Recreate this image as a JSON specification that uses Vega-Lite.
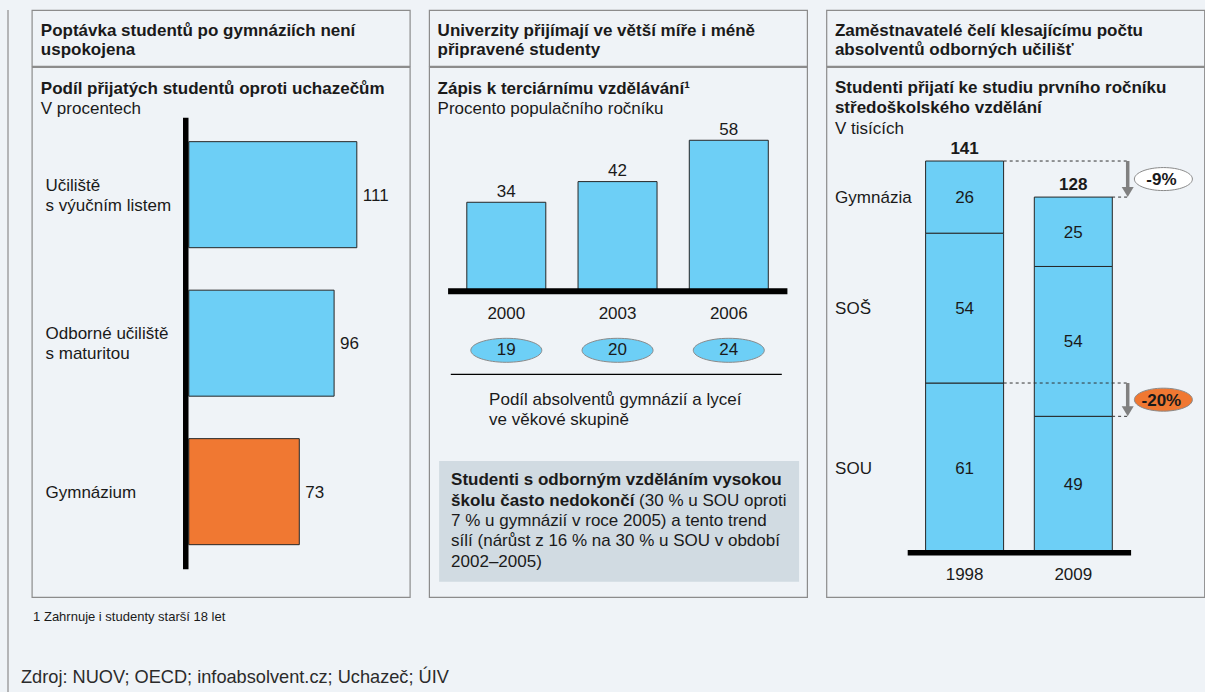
{
  "$schema": "https://vega.github.io/schema/vega-lite/v6.json",
  "background": "#eff3f7",
  "padding": {"left": 7, "top": 9, "right": 0, "bottom": 0},
  "config": {
    "font": "Liberation Sans",
    "view": {"stroke": "#8c8c8c", "strokeWidth": 1.2},
    "axis": {"disable": true},
    "text": {"fontSize": 17, "color": "#1a1a1a", "font": "Liberation Sans"},
    "title": {"font": "Liberation Sans", "fontSize": 17, "fontWeight": "bold", "color": "#1a1a1a", "subtitleFont": "Liberation Sans", "subtitleFontSize": 17, "subtitleFontWeight": "normal", "subtitleColor": "#1a1a1a", "anchor": "start", "frame": "group", "orient": "bottom", "lineHeight": 19, "subtitleLineHeight": 20}
  },
  "title": {"text": "Zdroj: NUOV; OECD; infoabsolvent.cz; Uchazeč; ÚIV", "fontSize": 18.2, "fontWeight": "normal", "color": "#2b2b2b", "dx": 13, "offset": -24.6},
  "spacing": 17.8,
  "resolve": {"scale": {"fill": "independent"}},
  "hconcat": [
    {"width": 5, "height": 683, "view": {"stroke": null}, "data": {"values": [{}]},
     "mark": {"type": "rule", "color": "#8c8c8c", "strokeWidth": 1.2},
     "encoding": {"x": {"datum": 0, "type": "quantitative", "axis": null, "scale": {"domain": [0, 5], "nice": false, "zero": false}}}},
    {
      "spacing": 17.3,
      "resolve": {"scale": {"fill": "independent"}},
      "hconcat": [
        {
          "spacing": -1.2,
          "title": {"text": "1 Zahrnuje i studenty starší 18 let", "fontSize": 13, "fontWeight": "normal", "offset": 13, "dx": 1.3},
          "vconcat": [
            {"width": 378, "height": 56, "view": {"stroke": "#8c8c8c", "strokeWidth": 1.2}, "data": {"values": [{}]}, "mark": {"type": "text", "text": ""},
             "title": {"text": ["Poptávka studentů po gymnáziích není", "uspokojena"], "offset": -42.7, "dx": 9}},
            {"width": 378, "height": 530,
             "title": {"text": "Podíl přijatých studentů oproti uchazečům", "subtitle": "V procentech", "offset": -515.7, "dx": 9, "subtitlePadding": 3},
             "data": {"values": [
               {"typ": "Učiliště s výučním listem", "popisek": "Učiliště|s výučním listem", "podil": 111, "skupina": "Odborné školy"},
               {"typ": "Odborné učiliště s maturitou", "popisek": "Odborné učiliště|s maturitou", "podil": 96, "skupina": "Odborné školy"},
               {"typ": "Gymnázium", "popisek": "Gymnázium", "podil": 73, "skupina": "Gymnázia"}
             ]},
             "encoding": {"y": {"field": "typ", "type": "nominal", "axis": null, "scale": {"domain": ["Učiliště s výučním listem", "Odborné učiliště s maturitou", "Gymnázium"], "paddingInner": 0.286, "paddingOuter": 0.4276, "align": 0.588}}},
             "layer": [
               {"mark": {"type": "bar", "stroke": "#262626", "strokeWidth": 1},
                "encoding": {"x": {"field": "podil", "type": "quantitative", "axis": null, "scale": {"domain": [-103.7, 146.0], "nice": false}},
                             "fill": {"field": "skupina", "type": "nominal", "legend": null, "scale": {"domain": ["Odborné školy", "Gymnázia"], "range": ["#6dcff6", "#f07832"]}}}},
               {"mark": {"type": "text", "align": "left", "baseline": "middle", "dx": 6, "dy": 1},
                "encoding": {"x": {"field": "podil", "type": "quantitative", "axis": null, "scale": {"domain": [-103.7, 146.0], "nice": false}}, "text": {"field": "podil", "type": "quantitative"}}},
               {"transform": [{"filter": "indexof(datum.popisek, '|') >= 0"}],
                "mark": {"type": "text", "align": "left", "baseline": "middle", "dy": -9, "lineBreak": "|", "lineHeight": 20},
                "encoding": {"x": {"datum": -94.65, "type": "quantitative", "axis": null, "scale": {"domain": [-103.7, 146.0], "nice": false}}, "text": {"field": "popisek", "type": "nominal"}}},
               {"transform": [{"filter": "indexof(datum.popisek, '|') < 0"}],
                "mark": {"type": "text", "align": "left", "baseline": "middle", "dy": 1},
                "encoding": {"x": {"datum": -94.65, "type": "quantitative", "axis": null, "scale": {"domain": [-103.7, 146.0], "nice": false}}, "text": {"field": "popisek", "type": "nominal"}}},
               {"data": {"values": [{}]}, "mark": {"type": "rule", "strokeWidth": 5.5, "color": "#000000"},
                "encoding": {"x": {"datum": -2, "type": "quantitative", "axis": null, "scale": {"domain": [-103.7, 146.0], "nice": false}},
                             "y": {"datum": "Učiliště s výučním listem", "type": "nominal", "bandPosition": -0.226},
                             "y2": {"datum": "Gymnázium", "bandPosition": 1.232}}}
             ]}
          ]
        },
        {
          "spacing": -1.2,
          "vconcat": [
            {"width": 378, "height": 56, "view": {"stroke": "#8c8c8c", "strokeWidth": 1.2}, "data": {"values": [{}]}, "mark": {"type": "text", "text": ""},
             "title": {"text": ["Univerzity přijímají ve větší míře i méně", "připravené studenty"], "offset": -42.7, "dx": 8.5}},
            {"width": 378, "height": 530,
             "title": {"text": "Zápis k terciárnímu vzdělávání¹", "subtitle": "Procento populačního ročníku", "offset": -515.7, "dx": 8.5, "subtitlePadding": 3},
             "data": {"values": [
               {"rok": 2000, "zapis": 34, "absolventi": 19},
               {"rok": 2003, "zapis": 42, "absolventi": 20},
               {"rok": 2006, "zapis": 58, "absolventi": 24}
             ]},
             "layer": [
               {"data": {"values": [{}]}, "mark": {"type": "rect", "fill": "#d1dbe2"},
                "encoding": {"x": {"datum": 1998.188, "type": "quantitative", "axis": null, "scale": {"domain": [1997.918, 2008.112], "nice": false, "zero": false, "padding": 0}},
                             "x2": {"datum": 2007.896},
                             "y": {"datum": -66.16, "type": "quantitative", "axis": null, "scale": {"domain": [-118.82, 86.37], "nice": false}},
                             "y2": {"datum": -112.89}}},
               {"mark": {"type": "bar", "orient": "vertical", "width": 79, "fill": "#6dcff6", "stroke": "#262626", "strokeWidth": 1},
                "encoding": {"x": {"field": "rok", "type": "quantitative", "axis": null, "scale": {"domain": [1997.918, 2008.112], "nice": false, "zero": false, "padding": 0}},
                             "y": {"field": "zapis", "type": "quantitative", "axis": null, "scale": {"domain": [-118.82, 86.37], "nice": false}}}},
               {"mark": {"type": "text", "baseline": "middle", "dy": -10.3},
                "encoding": {"x": {"field": "rok", "type": "quantitative", "axis": null, "scale": {"domain": [1997.918, 2008.112], "nice": false, "zero": false, "padding": 0}},
                             "y": {"field": "zapis", "type": "quantitative", "axis": null, "scale": {"domain": [-118.82, 86.37], "nice": false}},
                             "text": {"field": "zapis", "type": "quantitative"}}},
               {"data": {"values": [{}]}, "mark": {"type": "rule", "strokeWidth": 6, "color": "#000000"},
                "encoding": {"x": {"datum": 1998.430, "type": "quantitative", "axis": null, "scale": {"domain": [1997.918, 2008.112], "nice": false, "zero": false, "padding": 0}},
                             "x2": {"datum": 2007.581},
                             "y": {"datum": -0.46, "type": "quantitative", "axis": null, "scale": {"domain": [-118.82, 86.37], "nice": false}}}},
               {"mark": {"type": "text", "baseline": "middle"},
                "encoding": {"x": {"field": "rok", "type": "quantitative", "axis": null, "scale": {"domain": [1997.918, 2008.112], "nice": false, "zero": false, "padding": 0}},
                             "y": {"datum": -9.14, "type": "quantitative", "axis": null, "scale": {"domain": [-118.82, 86.37], "nice": false}},
                             "text": {"field": "rok", "type": "ordinal"}}},
               {"mark": {"type": "point", "shape": "M-1,0C-1,-0.1867,-0.5523,-0.338,0,-0.338C0.5523,-0.338,1,-0.1867,1,0C1,0.1867,0.5523,0.338,0,0.338C-0.5523,0.338,-1,0.1867,-1,0Z", "size": 5041, "filled": true, "fill": "#6dcff6", "stroke": "#8a8a8a", "strokeWidth": 1, "opacity": 1},
                "encoding": {"x": {"field": "rok", "type": "quantitative", "axis": null, "scale": {"domain": [1997.918, 2008.112], "nice": false, "zero": false, "padding": 0}},
                             "y": {"datum": -23.31, "type": "quantitative", "axis": null, "scale": {"domain": [-118.82, 86.37], "nice": false}}}},
               {"mark": {"type": "text", "baseline": "middle"},
                "encoding": {"x": {"field": "rok", "type": "quantitative", "axis": null, "scale": {"domain": [1997.918, 2008.112], "nice": false, "zero": false, "padding": 0}},
                             "y": {"datum": -23.31, "type": "quantitative", "axis": null, "scale": {"domain": [-118.82, 86.37], "nice": false}},
                             "text": {"field": "absolventi", "type": "quantitative"}}},
               {"data": {"values": [{}]}, "mark": {"type": "rule", "strokeWidth": 1.3, "color": "#000000"},
                "encoding": {"x": {"datum": 1998.503, "type": "quantitative", "axis": null, "scale": {"domain": [1997.918, 2008.112], "nice": false, "zero": false, "padding": 0}},
                             "x2": {"datum": 2007.430},
                             "y": {"datum": -32.60, "type": "quantitative", "axis": null, "scale": {"domain": [-118.82, 86.37], "nice": false}}}},
               {"data": {"values": [{"popis": "Podíl absolventů gymnázií a lyceí|ve věkové skupině"}]},
                "mark": {"type": "text", "align": "left", "baseline": "middle", "lineBreak": "|", "lineHeight": 20.6},
                "encoding": {"x": {"datum": 1999.536, "type": "quantitative", "axis": null, "scale": {"domain": [1997.918, 2008.112], "nice": false, "zero": false, "padding": 0}},
                             "y": {"datum": -42.43, "type": "quantitative", "axis": null, "scale": {"domain": [-118.82, 86.37], "nice": false}},
                             "text": {"field": "popis"}}},
               {"data": {"values": [{"popis": "Studenti s odborným vzděláním vysokou|školu často nedokončí"}]},
                "mark": {"type": "text", "align": "left", "baseline": "middle", "fontWeight": "bold", "lineBreak": "|", "lineHeight": 20.4},
                "encoding": {"x": {"datum": 1998.511, "type": "quantitative", "axis": null, "scale": {"domain": [1997.918, 2008.112], "nice": false, "zero": false, "padding": 0}},
                             "y": {"datum": -73.64, "type": "quantitative", "axis": null, "scale": {"domain": [-118.82, 86.37], "nice": false}},
                             "text": {"field": "popis"}}},
               {"data": {"values": [{"popis": "(30 % u SOU oproti"}]},
                "mark": {"type": "text", "align": "left", "baseline": "middle"},
                "encoding": {"x": {"datum": 2003.581, "type": "quantitative", "axis": null, "scale": {"domain": [1997.918, 2008.112], "nice": false, "zero": false, "padding": 0}},
                             "y": {"datum": -81.53, "type": "quantitative", "axis": null, "scale": {"domain": [-118.82, 86.37], "nice": false}},
                             "text": {"field": "popis"}}},
               {"data": {"values": [{"popis": "7 % u gymnázií v roce 2005) a tento trend|sílí (nárůst z 16 % na 30 % u SOU v období|2002–2005)"}]},
                "mark": {"type": "text", "align": "left", "baseline": "middle", "lineBreak": "|", "lineHeight": 20.4},
                "encoding": {"x": {"datum": 1998.511, "type": "quantitative", "axis": null, "scale": {"domain": [1997.918, 2008.112], "nice": false, "zero": false, "padding": 0}},
                             "y": {"datum": -89.43, "type": "quantitative", "axis": null, "scale": {"domain": [-118.82, 86.37], "nice": false}},
                             "text": {"field": "popis"}}}
             ]}
          ]
        },
        {
          "spacing": -1.2,
          "vconcat": [
            {"width": 378, "height": 56, "view": {"stroke": "#8c8c8c", "strokeWidth": 1.2}, "data": {"values": [{}]}, "mark": {"type": "text", "text": ""},
             "title": {"text": ["Zaměstnavatelé čelí klesajícímu počtu", "absolventů odborných učilišť"], "offset": -42.7, "dx": 8.5}},
            {"width": 378, "height": 530,
             "title": {"text": ["Studenti přijatí ke studiu prvního ročníku", "středoškolského vzdělání"], "subtitle": "V tisících", "offset": -517.3, "dx": 8.5, "subtitlePadding": 4, "lineHeight": 20},
             "data": {"values": [
               {"rok": 1998, "typ": "SOU", "pocet": 61, "poradi": 1},
               {"rok": 1998, "typ": "SOŠ", "pocet": 54, "poradi": 2},
               {"rok": 1998, "typ": "Gymnázia", "pocet": 26, "poradi": 3},
               {"rok": 2009, "typ": "SOU", "pocet": 49, "poradi": 1},
               {"rok": 2009, "typ": "SOŠ", "pocet": 54, "poradi": 2},
               {"rok": 2009, "typ": "Gymnázia", "pocet": 25, "poradi": 3}
             ]},
             "layer": [
               {"mark": {"type": "bar", "orient": "vertical", "width": 78, "fill": "#6dcff6", "stroke": "#262626", "strokeWidth": 1},
                "encoding": {"x": {"field": "rok", "type": "quantitative", "axis": null, "scale": {"domain": [1984.015, 2022.267], "nice": false, "zero": false, "padding": 0}},
                             "y": {"field": "pocet", "type": "quantitative", "stack": "zero", "axis": null, "scale": {"domain": [-16.11, 174.88], "nice": false, "zero": false}},
                             "detail": {"field": "typ", "type": "nominal"},
                             "order": {"field": "poradi", "type": "quantitative"}}},
               {"mark": {"type": "text", "baseline": "middle", "dy": 1},
                "encoding": {"x": {"field": "rok", "type": "quantitative", "axis": null, "scale": {"domain": [1984.015, 2022.267], "nice": false, "zero": false, "padding": 0}},
                             "y": {"field": "pocet", "type": "quantitative", "stack": "zero", "bandPosition": 0.5, "axis": null, "scale": {"domain": [-16.11, 174.88], "nice": false, "zero": false}},
                             "detail": {"field": "typ", "type": "nominal"},
                             "order": {"field": "poradi", "type": "quantitative"},
                             "text": {"field": "pocet", "type": "quantitative"}}},
               {"transform": [{"filter": "datum.rok == 1998"}],
                "mark": {"type": "text", "align": "left", "baseline": "middle", "dy": 1},
                "encoding": {"x": {"datum": 1984.896, "type": "quantitative", "axis": null, "scale": {"domain": [1984.015, 2022.267], "nice": false, "zero": false, "padding": 0}},
                             "y": {"field": "pocet", "type": "quantitative", "stack": "zero", "bandPosition": 0.5, "axis": null, "scale": {"domain": [-16.11, 174.88], "nice": false, "zero": false}},
                             "detail": {"field": "typ", "type": "nominal"},
                             "order": {"field": "poradi", "type": "quantitative"},
                             "text": {"field": "typ", "type": "nominal"}}},
               {"transform": [{"aggregate": [{"op": "sum", "field": "pocet", "as": "celkem"}], "groupby": ["rok"]}],
                "mark": {"type": "text", "fontWeight": "bold", "baseline": "middle", "dy": -12},
                "encoding": {"x": {"field": "rok", "type": "quantitative", "axis": null, "scale": {"domain": [1984.015, 2022.267], "nice": false, "zero": false, "padding": 0}},
                             "y": {"field": "celkem", "type": "quantitative", "axis": null, "scale": {"domain": [-16.11, 174.88], "nice": false, "zero": false}},
                             "text": {"field": "celkem", "type": "quantitative"}}},
               {"transform": [{"aggregate": [{"op": "sum", "field": "pocet", "as": "celkem"}], "groupby": ["rok"]}],
                "mark": {"type": "text", "baseline": "middle"},
                "encoding": {"x": {"field": "rok", "type": "quantitative", "axis": null, "scale": {"domain": [1984.015, 2022.267], "nice": false, "zero": false, "padding": 0}},
                             "y": {"datum": -8.07, "type": "quantitative", "axis": null, "scale": {"domain": [-16.11, 174.88], "nice": false, "zero": false}},
                             "text": {"field": "rok", "type": "ordinal"}}},
               {"data": {"values": [{}]}, "mark": {"type": "rule", "strokeWidth": 5.5, "color": "#000000"},
                "encoding": {"x": {"datum": 1992.242, "type": "quantitative", "axis": null, "scale": {"domain": [1984.015, 2022.267], "nice": false, "zero": false, "padding": 0}},
                             "x2": {"datum": 2014.849},
                             "y": {"datum": -0.14, "type": "quantitative", "axis": null, "scale": {"domain": [-16.11, 174.88], "nice": false, "zero": false}}}},
               {"data": {"values": [{"zmena": "-9%", "od": 141, "do": 128}, {"zmena": "-20%", "od": 61, "do": 49}]},
                "layer": [
                  {"mark": {"type": "rule", "strokeDash": [3, 3], "color": "#333333", "strokeWidth": 1},
                   "encoding": {"x": {"datum": 2001.957, "type": "quantitative", "axis": null, "scale": {"domain": [1984.015, 2022.267], "nice": false, "zero": false, "padding": 0}},
                                "x2": {"datum": 2014.505},
                                "y": {"field": "od", "type": "quantitative", "axis": null, "scale": {"domain": [-16.11, 174.88], "nice": false, "zero": false}}}},
                  {"mark": {"type": "rule", "strokeDash": [3, 3], "color": "#333333", "strokeWidth": 1},
                   "encoding": {"x": {"datum": 2012.926, "type": "quantitative", "axis": null, "scale": {"domain": [1984.015, 2022.267], "nice": false, "zero": false, "padding": 0}},
                                "x2": {"datum": 2014.505},
                                "y": {"field": "do", "type": "quantitative", "axis": null, "scale": {"domain": [-16.11, 174.88], "nice": false, "zero": false}}}},
                  {"mark": {"type": "rule", "color": "#808080", "strokeWidth": 3.5, "y2Offset": -8},
                   "encoding": {"x": {"datum": 2014.505, "type": "quantitative", "axis": null, "scale": {"domain": [1984.015, 2022.267], "nice": false, "zero": false, "padding": 0}},
                                "y": {"field": "od", "type": "quantitative", "axis": null, "scale": {"domain": [-16.11, 174.88], "nice": false, "zero": false}},
                                "y2": {"field": "do"}}},
                  {"mark": {"type": "point", "shape": "M-1,-1.667L1,-1.667L0,0Z", "size": 144, "filled": true, "fill": "#808080", "opacity": 1, "strokeWidth": 0},
                   "encoding": {"x": {"datum": 2014.505, "type": "quantitative", "axis": null, "scale": {"domain": [1984.015, 2022.267], "nice": false, "zero": false, "padding": 0}},
                                "y": {"field": "do", "type": "quantitative", "axis": null, "scale": {"domain": [-16.11, 174.88], "nice": false, "zero": false}}}},
                  {"transform": [{"fold": ["od", "do"], "as": ["mez", "hodnota"]}, {"aggregate": [{"op": "mean", "field": "hodnota", "as": "stred"}], "groupby": ["zmena"]}],
                   "layer": [
                     {"mark": {"type": "point", "shape": "M-1,0C-1,-0.219,-0.5523,-0.3966,0,-0.3966C0.5523,-0.3966,1,-0.219,1,0C1,0.219,0.5523,0.3966,0,0.3966C-0.5523,0.3966,-1,0.219,-1,0Z", "size": 3364, "filled": true, "opacity": 1, "stroke": "#8a8a8a", "strokeWidth": 1},
                      "encoding": {"x": {"datum": 2018.117, "type": "quantitative", "axis": null, "scale": {"domain": [1984.015, 2022.267], "nice": false, "zero": false, "padding": 0}},
                                   "y": {"field": "stred", "type": "quantitative", "axis": null, "scale": {"domain": [-16.11, 174.88], "nice": false, "zero": false}},
                                   "fill": {"field": "zmena", "type": "nominal", "legend": null, "scale": {"domain": ["-9%", "-20%"], "range": ["#ffffff", "#f07832"]}}}},
                     {"mark": {"type": "text", "fontWeight": "bold", "baseline": "middle", "dy": 1, "dx": -2},
                      "encoding": {"x": {"datum": 2018.117, "type": "quantitative", "axis": null, "scale": {"domain": [1984.015, 2022.267], "nice": false, "zero": false, "padding": 0}},
                                   "y": {"field": "stred", "type": "quantitative", "axis": null, "scale": {"domain": [-16.11, 174.88], "nice": false, "zero": false}},
                                   "text": {"field": "zmena", "type": "nominal"}}}
                   ]}
                ]}
             ]}
          ]
        }
      ]
    }
  ]
}
